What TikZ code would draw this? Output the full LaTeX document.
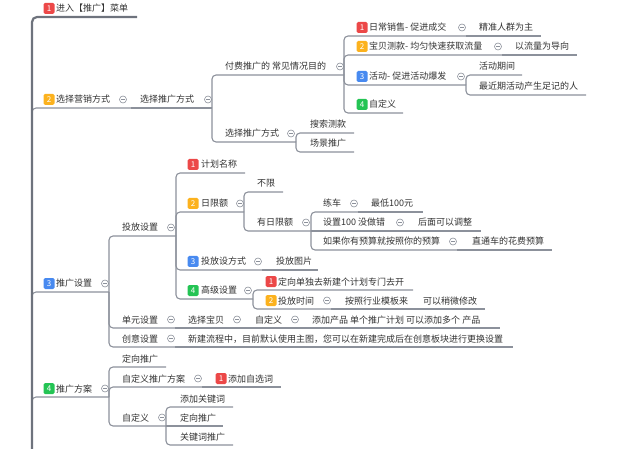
\documentclass[tikz,border=0pt]{standalone}
\usepackage{fontspec}
\setmainfont{Noto Sans CJK SC}
\usepackage{tikz}
\usetikzlibrary{positioning}
\definecolor{linkgray}{RGB}{140,145,155}
\definecolor{trunkgray}{RGB}{110,115,125}
\definecolor{textgray}{RGB}{50,50,50}
\definecolor{tagred}{RGB}{236,72,72}
\definecolor{tagorange}{RGB}{252,178,30}
\definecolor{tagblue}{RGB}{72,138,240}
\definecolor{taggreen}{RGB}{36,196,84}
\tikzset{
  topic/.style={anchor=base west, inner sep=0pt, text=textgray, font=\fontsize{9}{10}\selectfont},
  badge/.style={fill=#1, rounded corners=1.5pt, minimum size=11pt, inner sep=0pt,
    text=white, font=\fontsize{8}{8}\selectfont},
  fold/.style={circle, draw=linkgray, line width=0.6pt, fill=white, minimum size=7pt, inner sep=0pt,
    path picture={\draw[linkgray, line width=0.6pt]
      ([xshift=-1.8pt]path picture bounding box.center) -- ([xshift=1.8pt]path picture bounding box.center);}},
  link/.style={draw=linkgray, line width=1.1pt, rounded corners=4pt},
  trunk/.style={draw=trunkgray, line width=2.2pt, rounded corners=5pt},
}

\begin{document}
\begin{tikzpicture}[x=1pt, y=-1pt]
  \useasboundingbox (0,0) rectangle (640,449);
  \coordinate (root) at (32,449);

  % 1
  \node[badge=tagred] (menu-b) at (49,8.5) {1};
  \node[topic] (menu) at (56,12) {进入【推广】菜单};
  \coordinate (menu-e) at (137,17);

  % 2
  \node[badge=tagorange] (market-b) at (49,99.5) {2};
  \node[topic] (market) at (56,103) {选择营销方式};
  \node[fold] (market-f) at (123,99.5) {};
  \coordinate (market-j) at (131,108);
  \node[topic] (way) at (140,103) {选择推广方式};
  \node[fold] (way-f) at (208,99.5) {};
  \coordinate (way-j) at (212,108);

  \node[topic] (pay) at (225,70) {付费推广的 常见情况目的};
  \node[fold] (pay-f) at (340,66.5) {};
  \coordinate (pay-j) at (344,75);

  \node[badge=tagred] (sale-b) at (362,27.5) {1};
  \node[topic] (sale) at (369,31) {日常销售- 促进成交};
  \node[fold] (sale-f) at (462,27.5) {};
  \coordinate (sale-j) at (466,36);
  \node[topic] (precise) at (479,31) {精准人群为主};
  \coordinate (precise-e) at (541,36);

  \node[badge=tagorange] (test-b) at (362,46.5) {2};
  \node[topic] (test) at (369,50) {宝贝测款- 均匀快速获取流量};
  \node[fold] (test-f) at (498,46.5) {};
  \coordinate (test-j) at (502,55);
  \node[topic] (flow) at (515,50) {以流量为导向};
  \coordinate (flow-e) at (577,55);

  \node[badge=tagblue] (act-b) at (362,76.5) {3};
  \node[topic] (act) at (369,80) {活动- 促进活动爆发};
  \node[fold] (act-f) at (461,76.5) {};
  \coordinate (act-j) at (466,85);
  \node[topic] (period) at (479,70) {活动期间};
  \coordinate (period-e) at (522,75);
  \node[topic] (recent) at (479,90) {最近期活动产生足记的人};
  \coordinate (recent-e) at (586,95);

  \node[badge=taggreen] (custom-b) at (362,104.5) {4};
  \node[topic] (custom) at (369,108) {自定义};
  \coordinate (custom-e) at (403,113);

  \node[topic] (mode) at (225,137) {选择推广方式};
  \node[fold] (mode-f) at (291,133.5) {};
  \coordinate (mode-j) at (296,142);
  \node[topic] (search) at (310,128) {搜索测款};
  \coordinate (search-e) at (354,133);
  \node[topic] (scene) at (310,147) {场景推广};
  \coordinate (scene-e) at (354,152);

  % 3
  \node[badge=tagblue] (setup-b) at (49,283.5) {3};
  \node[topic] (setup) at (56,287) {推广设置};
  \node[fold] (setup-f) at (105,283.5) {};
  \coordinate (setup-j) at (109,292);

  \node[topic] (deliver) at (122,231) {投放设置};
  \node[fold] (deliver-f) at (171,227.5) {};
  \coordinate (deliver-j) at (176,236);

  \node[badge=tagred] (plan-b) at (193,164.5) {1};
  \node[topic] (plan) at (201,168) {计划名称};
  \coordinate (plan-e) at (245,173);

  \node[badge=tagorange] (limit-b) at (193,203.5) {2};
  \node[topic] (limit) at (201,207) {日限额};
  \node[fold] (limit-f) at (240,203.5) {};
  \coordinate (limit-j) at (244,212);
  \node[topic] (nolimit) at (257,187) {不限};
  \coordinate (nolimit-e) at (283,192);
  \node[topic] (haslimit) at (257,226) {有日限额};
  \node[fold] (haslimit-f) at (306,222.5) {};
  \coordinate (haslimit-j) at (311,231);

  \node[topic] (train) at (323,207) {练车};
  \node[fold] (train-f) at (354,203.5) {};
  \coordinate (train-j) at (358,212);
  \node[topic] (low) at (371,207) {最低100元};
  \coordinate (low-e) at (423,212);
  \node[topic] (set) at (323,226) {设置100 没做错};
  \node[fold] (set-f) at (400,222.5) {};
  \coordinate (set-j) at (404,231);
  \node[topic] (adjust) at (418,226) {后面可以调整};
  \coordinate (adjust-e) at (481,231);
  \node[topic] (budget) at (323,245) {如果你有预算就按照你的预算};
  \node[fold] (budget-f) at (453,241.5) {};
  \coordinate (budget-j) at (457,250);
  \node[topic] (cost) at (472,245) {直通车的花费预算};
  \coordinate (cost-e) at (552,250);

  \node[badge=tagblue] (manner-b) at (193,261.5) {3};
  \node[topic] (manner) at (201,265) {投放设方式};
  \node[fold] (manner-f) at (258,261.5) {};
  \coordinate (manner-j) at (262,270);
  \node[topic] (image) at (276,265) {投放图片};
  \coordinate (image-e) at (318,270);

  \node[badge=taggreen] (adv-b) at (193,290.5) {4};
  \node[topic] (adv) at (201,294) {高级设置};
  \node[fold] (adv-f) at (248,290.5) {};
  \coordinate (adv-j) at (253,299);
  \node[badge=tagred] (target-b) at (271,281.5) {1};
  \node[topic] (target) at (278,285) {定向单独去新建个计划专门去开};
  \coordinate (target-e) at (413,290);
  \node[badge=tagorange] (time-b) at (271,300.5) {2};
  \node[topic] (time) at (278,304) {投放时间};
  \node[fold] (time-f) at (327,300.5) {};
  \coordinate (time-j) at (331,309);
  \node[topic] (tmpl) at (345,304) {按照行业模板来};
  \coordinate (tmpl-j) at (416,309);
  \node[topic] (tweak) at (423,304) {可以稍微修改};
  \coordinate (tweak-e) at (485,309);

  \node[topic] (unit) at (122,323) {单元设置};
  \node[fold] (unit-f) at (171,319.5) {};
  \coordinate (unit-j) at (175,328);
  \node[topic] (item) at (188,323) {选择宝贝};
  \node[fold] (item-f) at (237,319.5) {};
  \coordinate (item-j) at (241,328);
  \node[topic] (self) at (255,323) {自定义};
  \node[fold] (self-f) at (295,319.5) {};
  \coordinate (self-j) at (299,328);
  \node[topic] (prod) at (312,323) {添加产品 单个推广计划 可以添加多个 产品};
  \coordinate (prod-e) at (500,328);

  \node[topic] (idea) at (122,342) {创意设置};
  \node[fold] (idea-f) at (171,338.5) {};
  \coordinate (idea-j) at (175,347);
  \node[topic] (create) at (188,342) {新建流程中，目前默认使用主图，您可以在新建完成后在创意板块进行更换设置};
  \coordinate (create-e) at (513,347);

  % 4
  \node[badge=taggreen] (scheme-b) at (49,388.5) {4};
  \node[topic] (scheme) at (56,392) {推广方案};
  \node[fold] (scheme-f) at (105,388.5) {};
  \coordinate (scheme-j) at (109,397);

  \node[topic] (dir) at (122,362) {定向推广};
  \coordinate (dir-e) at (166,367);
  \node[topic] (own) at (122,382) {自定义推广方案};
  \node[fold] (own-f) at (198,378.5) {};
  \coordinate (own-j) at (202,387);
  \node[badge=tagred] (word-b) at (221,378.5) {1};
  \node[topic] (word) at (228,382) {添加自选词};
  \coordinate (word-e) at (281,387);
  \node[topic] (cust) at (122,421) {自定义};
  \node[fold] (cust-f) at (162,417.5) {};
  \coordinate (cust-j) at (166,426);
  \node[topic] (addkw) at (180,402) {添加关键词};
  \coordinate (addkw-e) at (233,407);
  \node[topic] (dir2) at (180,421) {定向推广};
  \coordinate (dir2-e) at (223,426);
  \node[topic] (kw) at (180,440) {关键词推广};
  \coordinate (kw-e) at (233,445);

  % links
  \draw[link] (root) |- (market-j);
  \draw[link] (market-j) -- (way-j);
  \draw[link] (way-j) |- (pay-j);
  \draw[link] (pay-j) |- (sale-j);
  \draw[link] (sale-j) -- (precise-e);
  \draw[link] (pay-j) |- (test-j);
  \draw[link] (test-j) -- (flow-e);
  \draw[link] (pay-j) |- (act-j);
  \draw[link] (act-j) |- (period-e);
  \draw[link] (act-j) |- (recent-e);
  \draw[link] (pay-j) |- (custom-e);
  \draw[link] (way-j) |- (mode-j);
  \draw[link] (mode-j) |- (search-e);
  \draw[link] (mode-j) |- (scene-e);

  \draw[link] (root) |- (setup-j);
  \draw[link] (setup-j) |- (deliver-j);
  \draw[link] (deliver-j) |- (plan-e);
  \draw[link] (deliver-j) |- (limit-j);
  \draw[link] (limit-j) |- (nolimit-e);
  \draw[link] (limit-j) |- (haslimit-j);
  \draw[link] (haslimit-j) |- (train-j);
  \draw[link] (train-j) -- (low-e);
  \draw[link] (haslimit-j) -- (set-j);
  \draw[link] (set-j) -- (adjust-e);
  \draw[link] (haslimit-j) |- (budget-j);
  \draw[link] (budget-j) -- (cost-e);
  \draw[link] (deliver-j) |- (manner-j);
  \draw[link] (manner-j) -- (image-e);
  \draw[link] (deliver-j) |- (adv-j);
  \draw[link] (adv-j) |- (target-e);
  \draw[link] (adv-j) |- (time-j);
  \draw[link] (time-j) -- (tmpl-j);
  \draw[link] (tmpl-j) -- (tweak-e);
  \draw[link] (setup-j) |- (unit-j);
  \draw[link] (unit-j) -- (item-j);
  \draw[link] (item-j) -- (self-j);
  \draw[link] (self-j) -- (prod-e);
  \draw[link] (setup-j) |- (idea-j);
  \draw[link] (idea-j) -- (create-e);

  \draw[link] (root) |- (scheme-j);
  \draw[link] (scheme-j) |- (dir-e);
  \draw[link] (scheme-j) |- (own-j);
  \draw[link] (own-j) -- (word-e);
  \draw[link] (scheme-j) |- (cust-j);
  \draw[link] (cust-j) |- (addkw-e);
  \draw[link] (cust-j) -- (dir2-e);
  \draw[link] (cust-j) |- (kw-e);

  \draw[trunk] (root) |- (menu-e);
\end{tikzpicture}
\end{document}
